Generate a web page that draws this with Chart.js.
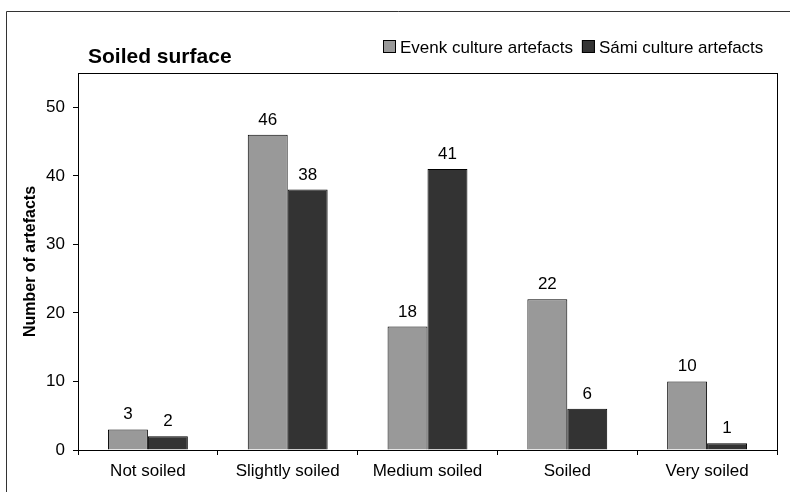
<!DOCTYPE html>
<html lang="en">
<head>
    <meta charset="UTF-8">
    <title>Soiled surface</title>
    <script src="https://cdn.jsdelivr.net/npm/chart.js"></script>
    <style>
        html, body { margin: 0; padding: 0; background: #fff; }
        .chart-container { position: relative; width: 790px; height: 492px; }
    </style>
</head>
<body>
    <div class="chart-container">
        <canvas id="soiledChart" width="790" height="492"></canvas>
    </div>

    <script>
        const categories = ['Not soiled', 'Slightly soiled', 'Medium soiled', 'Soiled', 'Very soiled'];
        const evenkCounts = [3, 46, 18, 22, 10];
        const samiCounts = [2, 38, 41, 6, 1];
        const yTickValues = [0, 10, 20, 30, 40, 50];

        const FONT = '"Liberation Sans", Arial, sans-serif';

        // frame, plot box, heading, legend and value labels
        const decorations = {
            id: 'decorations',
            beforeDraw(chart) {
                const ctx = chart.ctx;
                ctx.save();
                ctx.strokeStyle = '#333';
                ctx.lineWidth = 1;
                ctx.beginPath();
                ctx.moveTo(6.5, 492);
                ctx.lineTo(6.5, 11.5);
                ctx.lineTo(790, 11.5);
                ctx.stroke();
                ctx.restore();
            },
            afterDatasetsDraw(chart) {
                const ctx = chart.ctx;
                const area = chart.chartArea;
                ctx.save();
                ctx.strokeStyle = '#000';
                ctx.lineWidth = 1;
                ctx.strokeRect(Math.round(area.left) + 0.5, Math.round(area.top) + 0.5,
                    Math.round(area.right - area.left), Math.round(area.bottom - area.top));

                // numbers above the bars
                ctx.fillStyle = '#000';
                ctx.font = '17px ' + FONT;
                ctx.textAlign = 'center';
                ctx.textBaseline = 'alphabetic';
                chart.data.datasets.forEach((ds, i) => {
                    chart.getDatasetMeta(i).data.forEach((bar, j) => {
                        ctx.fillText(ds.data[j], bar.x, bar.y - 10);
                    });
                });

                // heading
                ctx.textAlign = 'left';
                ctx.font = 'bold 21px ' + FONT;
                ctx.fillText('Soiled surface', 88, 63);

                // legend
                ctx.font = '17px ' + FONT;
                let x = 383;
                chart.data.datasets.forEach(ds => {
                    ctx.fillStyle = ds.backgroundColor;
                    ctx.fillRect(x, 40, 13, 13);
                    ctx.strokeStyle = '#000';
                    ctx.strokeRect(x + 0.5, 40.5, 12, 12);
                    ctx.fillStyle = '#000';
                    ctx.fillText(ds.label, x + 17, 53);
                    x += 17 + ctx.measureText(ds.label).width + 9;
                });
                ctx.restore();
            }
        };

        new Chart(document.getElementById('soiledChart').getContext('2d'), {
            type: 'bar',
            data: {
                labels: categories,
                datasets: [{
                    label: 'Evenk culture artefacts',
                    data: evenkCounts,
                    backgroundColor: '#999999',
                    borderColor: '#000',
                    borderWidth: 1
                }, {
                    label: 'Sámi culture artefacts',
                    data: samiCounts,
                    backgroundColor: '#333333',
                    borderColor: '#000',
                    borderWidth: 1
                }]
            },
            options: {
                responsive: false,
                animation: false,
                devicePixelRatio: 1,
                layout: { padding: { top: 73, right: 13, bottom: 0, left: 6 } },
                datasets: { bar: { categoryPercentage: 0.5714, barPercentage: 1 } },
                plugins: {
                    legend: { display: false },
                    tooltip: { enabled: false }
                },
                scales: {
                    x: {
                        afterFit: s => { s.height = 42; },
                        grid: { drawOnChartArea: false, offset: true, tickLength: 5, color: '#000' },
                        border: { color: '#000' },
                        ticks: { color: '#000', font: { family: FONT, size: 17 }, padding: 6, maxRotation: 0 }
                    },
                    y: {
                        min: 0,
                        max: 55,
                        afterFit: s => { s.width = 72; },
                        afterBuildTicks: s => { s.ticks = yTickValues.map(v => ({ value: v })); },
                        grid: { drawOnChartArea: false, tickLength: 5, color: '#000' },
                        border: { color: '#000' },
                        ticks: { color: '#000', font: { family: FONT, size: 17 }, padding: 8 },
                        title: {
                            display: true,
                            text: 'Number of artefacts',
                            color: '#000',
                            font: { family: FONT, size: 16, weight: 'bold' },
                            padding: { top: 15, bottom: 0 }
                        }
                    }
                }
            },
            plugins: [decorations]
        });
    </script>
</body>
</html>
